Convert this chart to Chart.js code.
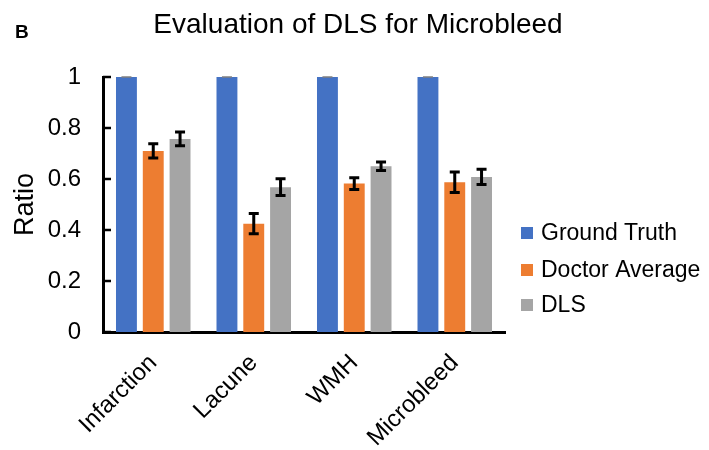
<!DOCTYPE html>
<html lang="en">
<head>
<meta charset="UTF-8">
<title>Evaluation of DLS for Microbleed</title>
<style>
  html, body { margin: 0; padding: 0; background: #fff; }
  #wrap { position: relative; width: 709px; height: 450px; }
</style>
</head>
<body>
<div id="wrap"><canvas id="myChart" width="709" height="450"></canvas></div>
<script src="https://cdn.jsdelivr.net/npm/chart.js"></script>
<script>
    // data
    const categories = ['Infarction', 'Lacune', 'WMH', 'Microbleed']
    const seriesNames = ['Ground Truth', 'Doctor Average', 'DLS']
    const groundTruth = [1, 1, 1, 1]
    const groundTruthErr = [0, 0, 0, 0]
    const doctorAverage = [0.71, 0.425, 0.582, 0.587]
    const doctorAverageErr = [0.028, 0.04, 0.023, 0.04]
    const dls = [0.757, 0.568, 0.65, 0.608]
    const dlsErr = [0.027, 0.033, 0.017, 0.03]
    const yTicks = [0, 0.2, 0.4, 0.6, 0.8, 1]

    const colors = ['#4472C4', '#ED7D31', '#A5A5A5']
    const errors = [groundTruthErr, doctorAverageErr, dlsErr]
    const FONT = '"Liberation Sans", Arial, Helvetica, sans-serif'

    // error bars, inward y ticks, title, legend
    const extras = {
        id: 'extras',
        afterDatasetsDraw(chart) {
            const ctx = chart.ctx
            const y = chart.scales.y
            ctx.save()
            chart.data.datasets.forEach((ds, i) => {
                const meta = chart.getDatasetMeta(i)
                meta.data.forEach((bar, j) => {
                    const v = ds.data[j], e = errors[i][j]
                    const top = y.getPixelForValue(v + e)
                    const bot = y.getPixelForValue(v - e)
                    ctx.lineCap = 'butt'
                    if (e === 0) {
                        ctx.strokeStyle = '#7f7f7f'
                        ctx.lineWidth = 1.5
                        ctx.beginPath()
                        ctx.moveTo(bar.x - 5, top)
                        ctx.lineTo(bar.x + 5, top)
                        ctx.stroke()
                        return
                    }
                    ctx.strokeStyle = '#000'
                    ctx.lineWidth = 3
                    ctx.beginPath()
                    ctx.moveTo(bar.x, top)
                    ctx.lineTo(bar.x, bot)
                    ctx.moveTo(bar.x - 5, top)
                    ctx.lineTo(bar.x + 5, top)
                    ctx.moveTo(bar.x - 5, bot)
                    ctx.lineTo(bar.x + 5, bot)
                    ctx.stroke()
                })
            })
            ctx.restore()
        },
        afterDraw(chart) {
            const ctx = chart.ctx
            const area = chart.chartArea
            const y = chart.scales.y
            ctx.save()
            // inward tick marks on the y axis
            ctx.strokeStyle = '#000'
            ctx.lineWidth = 2.5
            yTicks.forEach(t => {
                const py = y.getPixelForValue(t)
                ctx.beginPath()
                ctx.moveTo(area.left, py)
                ctx.lineTo(area.left + 8, py)
                ctx.stroke()
            })
            // title and panel letter
            ctx.fillStyle = '#000'
            ctx.textBaseline = 'alphabetic'
            ctx.textAlign = 'center'
            ctx.font = '28px ' + FONT
            ctx.fillText('Evaluation of DLS for Microbleed', 358, 33)
            ctx.textAlign = 'left'
            ctx.font = 'bold 19px ' + FONT
            ctx.fillText('B', 15, 38)
            // legend
            ctx.font = '23px ' + FONT
            ctx.textBaseline = 'middle'
            const rows = [233, 270, 305]
            chart.data.datasets.forEach((ds, i) => {
                ctx.fillStyle = ds.backgroundColor
                ctx.fillRect(521, rows[i] - 6, 12, 12)
                ctx.fillStyle = '#000'
                ctx.fillText(ds.label, 541, rows[i] + 1)
            })
            ctx.restore()
        }
    }

    const ctx = document.getElementById('myChart')
    const myChart = new Chart(ctx, {
        type: 'bar',
        data: {
            labels: categories,
            datasets: [
                { label: seriesNames[0], data: groundTruth, backgroundColor: colors[0] },
                { label: seriesNames[1], data: doctorAverage, backgroundColor: colors[1] },
                { label: seriesNames[2], data: dls, backgroundColor: colors[2] }
            ]
        },
        plugins: [extras],
        options: {
            responsive: false,
            animation: false,
            devicePixelRatio: 1,
            layout: { padding: { top: 77, right: 204, bottom: 0, left: 0 } },
            datasets: { bar: { categoryPercentage: 0.8, barPercentage: 0.78 } },
            plugins: {
                legend: { display: false },
                title: { display: false },
                tooltip: { enabled: false }
            },
            scales: {
                x: {
                    grid: { display: false },
                    border: { display: true, color: '#000', width: 3 },
                    ticks: {
                        color: '#000',
                        font: { family: FONT, size: 24 },
                        minRotation: 45,
                        maxRotation: 45,
                        padding: 9
                    },
                    afterFit(axis) { axis.height = 118 }
                },
                y: {
                    min: 0,
                    max: 1,
                    grid: { display: false, drawTicks: false },
                    border: { display: true, color: '#000', width: 3 },
                    afterBuildTicks(axis) { axis.ticks = yTicks.map(v => ({ value: v })) },
                    ticks: {
                        color: '#000',
                        font: { family: FONT, size: 24 },
                        padding: 22,
                        callback: v => String(v)
                    },
                    title: {
                        display: true,
                        text: 'Ratio',
                        color: '#000',
                        font: { family: FONT, size: 27, lineHeight: 1.2 },
                        padding: { top: 9, bottom: 0 }
                    },
                    afterFit(axis) { axis.width = 103 }
                }
            }
        }
    })
</script>
</body>
</html>
